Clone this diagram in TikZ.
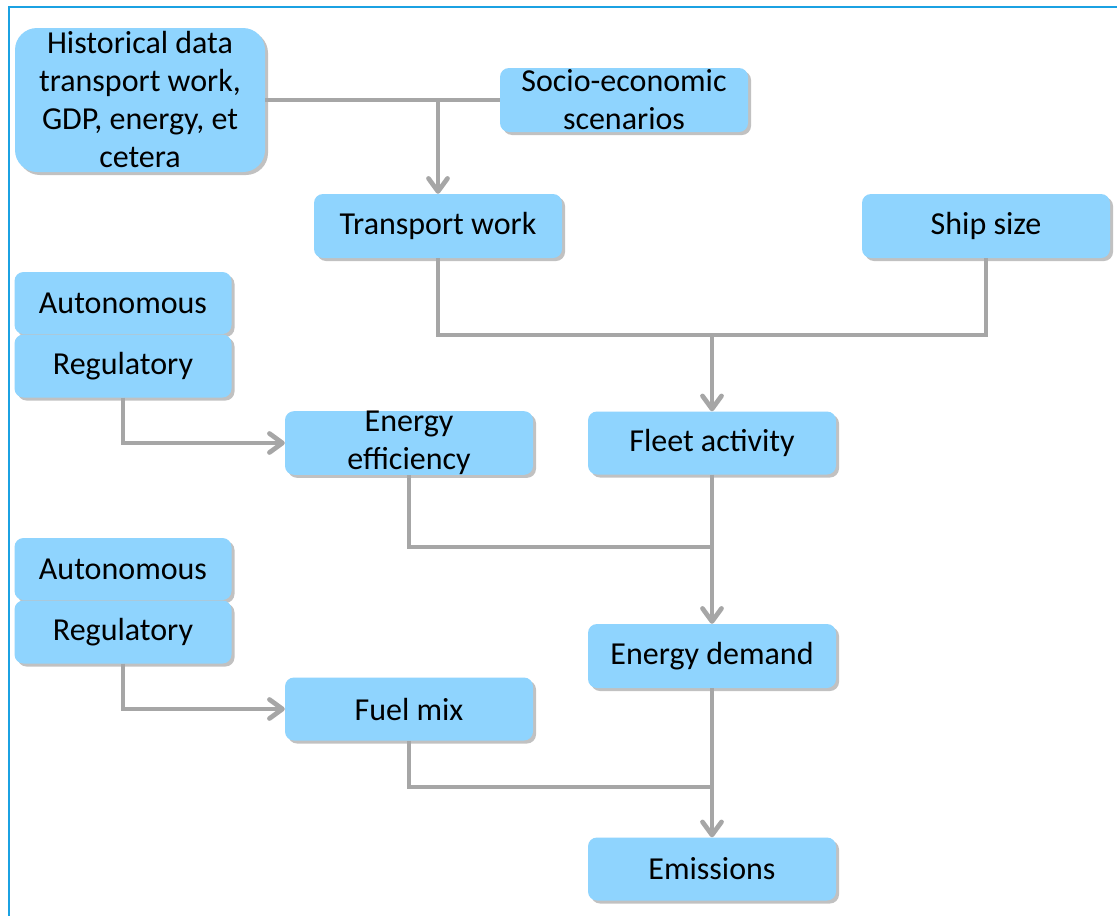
\documentclass[tikz,border=0pt]{standalone}
\usepackage{fontspec}
\setmainfont{Carlito}
\usetikzlibrary{arrows.meta,shadows}
\definecolor{boxblue}{HTML}{8FD4FE}
\definecolor{framblue}{HTML}{1BA1E2}
\definecolor{conngray}{HTML}{A6A6A6}
\tikzset{
  box/.style={draw=none, fill=boxblue, rounded corners=9pt, align=center,
    inner sep=0pt, font=\fontsize{32}{38}\selectfont,
    drop shadow={shadow xshift=3pt, shadow yshift=-3pt, opacity=0.4, fill=black!60}},
  conn/.style={draw=conngray, line width=4.7pt},
  arr/.style={conn, -{Straight Barb[length=13pt,width=19pt,round]}},
}
\begin{document}
\begin{tikzpicture}[x=1pt,y=-1pt]
\useasboundingbox (0,0) rectangle (1117,916);
\fill[white] (0,0) rectangle (1117,916);
\draw[framblue, line width=2.5pt] (1117,7) -- (9,7) -- (9,916);

\node[box, rounded corners=22pt, minimum width=250pt, minimum height=144pt] (hist) at (140,100) {Historical data\\transport work,\\GDP, energy, et\\cetera};
\node[box, minimum width=248pt, minimum height=64pt] (socio) at (624,100) {Socio-economic\\scenarios};
\node[box, minimum width=248pt, minimum height=64pt] (tw) at (438,226) {Transport work};
\node[box, minimum width=248pt, minimum height=64pt] (ship) at (986,226) {Ship size};
\node[box, minimum width=217pt, minimum height=62pt] (auto1) at (123,303) {Autonomous};
\node[box, minimum width=217pt, minimum height=63pt] (reg1) at (123,366) {Regulatory};
\node[box, minimum width=248pt, minimum height=63pt] (ee) at (409,443) {Energy\\efficiency};
\node[box, minimum width=248pt, minimum height=63pt] (fleet) at (712,443) {Fleet activity};
\node[box, minimum width=217pt, minimum height=62pt] (auto2) at (123,569) {Autonomous};
\node[box, minimum width=217pt, minimum height=63pt] (reg2) at (123,632) {Regulatory};
\node[box, minimum width=248pt, minimum height=64pt] (ed) at (712,656) {Energy demand};
\node[box, minimum width=248pt, minimum height=63pt] (fuel) at (409,709) {Fuel mix};
\node[box, minimum width=248pt, minimum height=63pt] (em) at (712,869) {Emissions};

\coordinate (j1) at (438,100);
\coordinate (j2) at (712,335);
\coordinate (j3) at (712,547);
\coordinate (j4) at (712,787);

\draw[conn] (hist.east) -- (socio.west);
\draw[arr] (j1) -- (tw.north);
\draw[conn] (tw.south) |- (j2) -| (ship.south);
\draw[arr] (j2) -- (fleet.north);
\draw[arr] (reg1.south) |- (ee.west);
\draw[conn] (ee.south) |- (j3);
\draw[arr] (fleet.south) -- (ed.north);
\draw[arr] (reg2.south) |- (fuel.west);
\draw[conn] (fuel.south) |- (j4);
\draw[arr] (ed.south) -- (em.north);
\end{tikzpicture}
\end{document}
